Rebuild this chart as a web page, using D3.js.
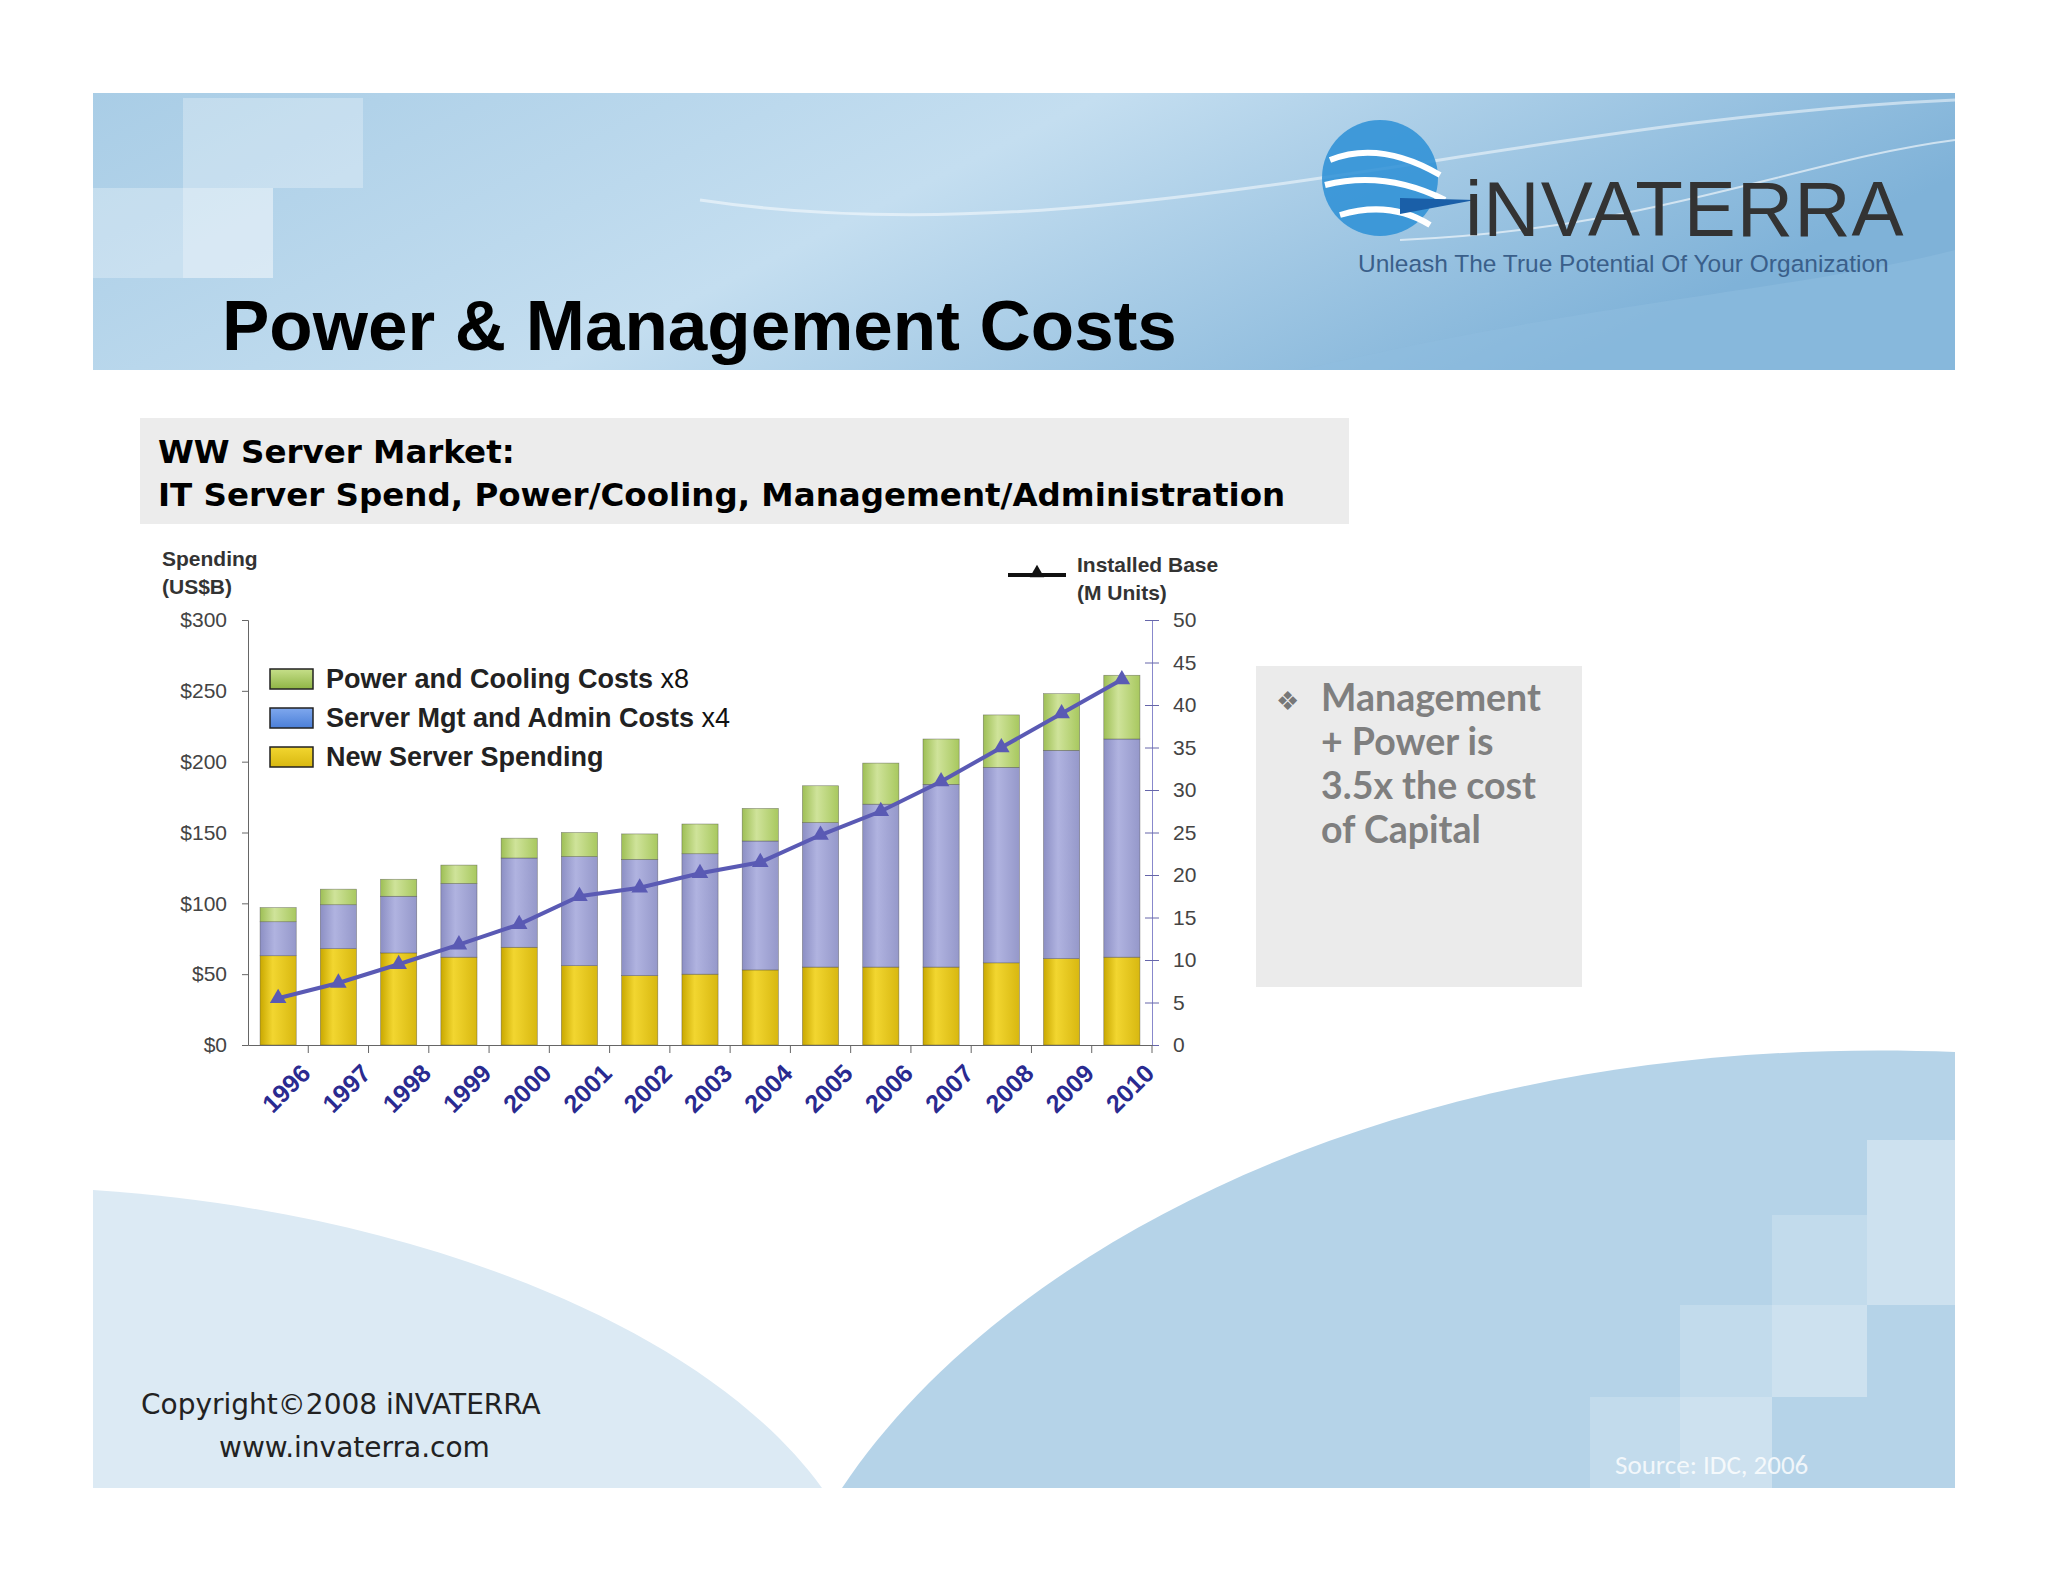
<!DOCTYPE html><html><head><meta charset="utf-8">
<script src="https://cdn.jsdelivr.net/npm/d3@7"></script>
<style>body{margin:0;background:#fff}svg{display:block}</style></head><body>
<script>
const years=["1996","1997","1998","1999","2000","2001","2002","2003","2004","2005","2006","2007","2008","2009","2010"];
const newServer=[63,68,65,62,69,56,49,50,53,55,55,55,58,61,62];
const mgtAdmin=[24,31,40,52,63,77,82,85,91,102,115,129,138,147,154];
const powerCooling=[10,11,12,13,14,17,18,21,23,26,29,32,37,40,45];
const installedBase=[5.5,7.3,9.5,11.8,14.2,17.5,18.5,20.2,21.5,24.7,27.5,31,35,39,43];
const leftTicks=[0,50,100,150,200,250,300];
const rightTicks=[0,5,10,15,20,25,30,35,40,45,50];
const seriesNames=["Power and Cooling Costs","Server Mgt and Admin Costs","New Server Spending"];
const seriesSuffix=["x8","x4",""];

const W=2048,H=1582;
const svg=d3.select("body").append("svg").attr("width",W).attr("height",H);
const defs=svg.append("defs");
function lg(id,stops,x2,y2){const g=defs.append("linearGradient").attr("id",id).attr("x1",0).attr("y1",0).attr("x2",x2).attr("y2",y2);stops.forEach(s=>g.append("stop").attr("offset",s[0]).attr("stop-color",s[1]));}
lg("ban",[[0,"#a9cde6"],[0.5,"#c4def0"],[1,"#7fb2d8"]],1,0.3);
lg("yel",[[0,"#c9a800"],[0.35,"#f2d630"],[1,"#d8b810"]],1,0);
lg("blu",[[0,"#8c8fc4"],[0.4,"#b0b3e0"],[1,"#9598ca"]],1,0);
lg("grn",[[0,"#9ebf55"],[0.4,"#cfe39a"],[1,"#a8c85f"]],1,0);
lg("lgy",[[0,"#f2d630"],[1,"#d8b810"]],0,1);
lg("lgb",[[0,"#7fa8ee"],[1,"#4b7fd8"]],0,1);
lg("lgg",[[0,"#c6df8a"],[1,"#8fb545"]],0,1);

svg.append("path").attr("d","M93,1190 C400,1210 700,1320 822,1488 L93,1488Z").attr("fill","#dceaf4");
svg.append("path").attr("d","M842,1488 C1000,1250 1400,1030 1955,1052 L1955,1488Z").attr("fill","#b5d3e8");
[[1867,1140,88,75],[1772,1215,95,90],[1867,1215,88,90],[1680,1305,92,92],[1772,1305,95,92],[1590,1397,90,91],[1680,1397,92,91]].forEach((r,i)=>svg.append("rect").attr("x",r[0]).attr("y",r[1]).attr("width",r[2]).attr("height",r[3]).attr("fill","#fff").attr("opacity",i%2?0.18:0.32));
svg.append("text").attr("x",1615).attr("y",1474).text("Source:  IDC, 2006").attr("font-family","Carlito, Liberation Sans, sans-serif").attr("font-size",27).attr("fill","#fff").attr("opacity",0.8);
svg.append("text").attr("x",141).attr("y",1414).text("Copyright\u00A92008 iNVATERRA").attr("font-family","DejaVu Sans, sans-serif").attr("font-size",28).attr("fill","#222");
svg.append("text").attr("x",219).attr("y",1457).text("www.invaterra.com").attr("font-family","DejaVu Sans, sans-serif").attr("font-size",28).attr("fill","#222");

svg.append("rect").attr("x",93).attr("y",93).attr("width",1862).attr("height",277).attr("fill","url(#ban)");
[[183,98,180,90],[93,188,180,90],[183,188,90,90]].forEach(r=>svg.append("rect").attr("x",r[0]).attr("y",r[1]).attr("width",r[2]).attr("height",r[3]).attr("fill","#fff").attr("opacity",0.28));
svg.append("path").attr("d","M700,200 C1100,260 1500,120 1955,100").attr("stroke","#fff").attr("stroke-width",3).attr("fill","none").attr("opacity",0.5);
svg.append("path").attr("d","M1400,240 C1650,230 1800,160 1955,140").attr("stroke","#fff").attr("stroke-width",2).attr("fill","none").attr("opacity",0.6);
svg.append("path").attr("d","M1300,370 C1600,300 1800,290 1955,250 L1955,370Z").attr("fill","#8fbde0").attr("opacity",0.5);
const lgG=svg.append("g");
lgG.append("circle").attr("cx",1380).attr("cy",178).attr("r",58).attr("fill","#2c8fd6").attr("opacity",0.85);
lgG.append("path").attr("d","M1330,160 Q1380,140 1440,175 M1325,185 Q1385,170 1445,200 M1340,215 Q1390,200 1430,225").attr("stroke","#fff").attr("stroke-width",6).attr("fill","none");
lgG.append("path").attr("d","M1400,198 L1475,200 L1400,214Z").attr("fill","#1a5fa8");
svg.append("text").attr("x",1465).attr("y",236).text("iNVATERRA").attr("font-family","Liberation Sans, Arial, sans-serif").attr("font-size",78).attr("fill","#333").attr("letter-spacing",1);
svg.append("text").attr("x",1358).attr("y",272).text("Unleash The True Potential Of Your Organization").attr("font-family","Liberation Sans, Arial, sans-serif").attr("font-size",24.5).attr("fill","#3a5f8a");
svg.append("text").attr("x",222).attr("y",350).text("Power & Management Costs").attr("font-family","Liberation Sans, Arial, sans-serif").attr("font-weight","bold").attr("font-size",71).attr("fill","#000");

svg.append("rect").attr("x",140).attr("y",418).attr("width",1209).attr("height",106).attr("fill","#ececec");
[["WW Server Market:",463],["IT Server Spend, Power/Cooling, Management/Administration",506]].forEach(t=>svg.append("text").attr("x",158).attr("y",t[1]).text(t[0]).attr("font-family","DejaVu Sans, sans-serif").attr("font-weight","bold").attr("font-size",32.5).attr("fill","#000"));
svg.append("rect").attr("x",1256).attr("y",666).attr("width",326).attr("height",321).attr("fill","#ebebeb");
svg.append("text").attr("x",1276).attr("y",710).text("\u2756").attr("font-size",26).attr("fill","#777");
["Management","+ Power is","3.5x the cost","of Capital"].forEach((t,i)=>svg.append("text").attr("x",1321).attr("y",711+i*44).text(t).attr("font-family","Lato, Open Sans, sans-serif").attr("font-weight","bold").attr("font-size",37.5).attr("fill","#7f7f7f"));

const fnt="Liberation Sans, Arial, sans-serif";
const x=d3.scaleBand().domain(years).range([248,1152]).paddingInner(0.4).paddingOuter(0.2);
const yL=d3.scaleLinear().domain([0,300]).range([1045,620]);
const yR=d3.scaleLinear().domain([0,50]).range([1045,620]);
const rows=years.map((y,i)=>({year:y,n:newServer[i],m:mgtAdmin[i],p:powerCooling[i]}));
const stack=d3.stack().keys(["n","m","p"])(rows);
const fills={n:"url(#yel)",m:"url(#blu)",p:"url(#grn)"};
const g=svg.append("g");
stack.forEach(s=>g.selectAll(null).data(s).join("rect").attr("x",d=>x(d.data.year)).attr("width",x.bandwidth()).attr("y",d=>yL(d[1])).attr("height",d=>yL(d[0])-yL(d[1])).attr("fill",fills[s.key]).attr("stroke","#444").attr("stroke-width",0.6).attr("stroke-opacity",0.6));

const ax=svg.append("g").attr("transform","translate(248,0)").call(d3.axisLeft(yL).tickValues(leftTicks).tickFormat(d=>"$"+d).tickSize(6));
ax.selectAll("text").attr("font-family",fnt).attr("font-size",21).attr("fill","#444").attr("dx",-12);
ax.selectAll("line,path").attr("stroke","#666");
const ar=svg.append("g").attr("transform","translate(1152,0)").call(d3.axisRight(yR).tickValues(rightTicks).tickSize(7).tickPadding(14));
ar.selectAll("text").attr("font-family",fnt).attr("font-size",21).attr("fill","#444");
ar.selectAll(".tick line").attr("x1",-7).attr("stroke","#6666aa");
ar.select("path").attr("stroke","#8888cc");
const ab=svg.append("g").attr("transform","translate(0,1045)").call(d3.axisBottom(x).tickSize(0).tickPadding(0));
ab.select("path").attr("stroke","#666");
ab.selectAll(".tick").append("line").attr("x1",x.step()/2).attr("x2",x.step()/2).attr("y2",8).attr("stroke","#666");
ab.selectAll("text").attr("font-family",fnt).attr("font-weight","bold").attr("font-size",25).attr("fill","#2a2a90").attr("text-anchor","end").attr("transform","translate(18,14) rotate(-45)").attr("dy","0.9em");

const line=d3.line().x((d,i)=>x(years[i])+x.bandwidth()/2).y(d=>yR(d));
svg.append("path").attr("d",line(installedBase)).attr("fill","none").attr("stroke","#5a5ab4").attr("stroke-width",4);
svg.selectAll(null).data(installedBase).join("path").attr("d",d3.symbol(d3.symbolTriangle,120)).attr("transform",(d,i)=>`translate(${x(years[i])+x.bandwidth()/2},${yR(d)})`).attr("fill","#5a5ab4");

[["Spending",566],["(US$B)",594]].forEach(t=>svg.append("text").attr("x",162).attr("y",t[1]).text(t[0]).attr("font-family",fnt).attr("font-weight","bold").attr("font-size",21).attr("fill","#333"));
[["Installed Base",572],["(M Units)",600]].forEach(t=>svg.append("text").attr("x",1077).attr("y",t[1]).text(t[0]).attr("font-family",fnt).attr("font-weight","bold").attr("font-size",21).attr("fill","#333"));
svg.append("line").attr("x1",1008).attr("x2",1066).attr("y1",575).attr("y2",575).attr("stroke","#111").attr("stroke-width",4);
svg.append("path").attr("d",d3.symbol(d3.symbolTriangle,90)).attr("transform","translate(1037,573)").attr("fill","#111");

const lgf=["url(#lgg)","url(#lgb)","url(#lgy)"];
seriesNames.forEach((n,i)=>{const yy=669+i*39;
svg.append("rect").attr("x",270).attr("y",yy).attr("width",43).attr("height",20).attr("fill",lgf[i]).attr("stroke","#222").attr("stroke-width",1.5);
const t=svg.append("text").attr("x",326).attr("y",yy+19).attr("font-family",fnt).attr("font-size",27).attr("fill","#111");
t.append("tspan").text(n).attr("font-weight","bold").attr("fill","#222");
if(seriesSuffix[i])t.append("tspan").text(" "+seriesSuffix[i]);});
</script></body></html>
